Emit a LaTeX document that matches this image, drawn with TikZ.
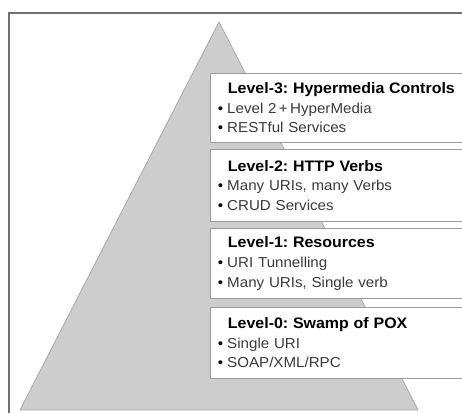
\documentclass[tikz,border=0pt]{standalone}
\usepackage{fontspec}
\setmainfont{Liberation Sans}
\newfontfamily\boxfont[FakeStretch=1.05]{Liberation Sans}
\definecolor{pyrfill}{HTML}{CDCDCD}
\definecolor{pyrline}{HTML}{A8A8A8}
\definecolor{frameline}{HTML}{707070}
\definecolor{boxline}{HTML}{9A9A9A}
\definecolor{bodytext}{HTML}{3A3A3A}
\tikzset{
  levelbox/.style={draw=boxline, line width=0.9pt, fill=white, anchor=north west,
    minimum width=270pt, minimum height=69pt, inner xsep=7pt, inner ysep=0pt,
    text width=255pt, align=left, font=\boxfont\fontsize{14.4}{19.6}\selectfont\frenchspacing}
}
\newcommand{\hdr}[1]{\hspace*{10pt}{\fontsize{15.2}{19.6}\selectfont\bfseries\color{black}#1}}
\newcommand{\itm}[1]{{\color{black}\textbullet}\hspace{4pt}{\color{bodytext}#1}}
\begin{document}
\begin{tikzpicture}[x=1pt,y=-1pt]
\useasboundingbox (0,0) rectangle (462,412);
% frame
\draw[frameline, line width=2pt] (9,418) -- (9,13) -- (470,13);
% pyramid
\coordinate (apex) at (219,22);
\coordinate (bl) at (20,410);
\coordinate (br) at (418,410);
\draw[pyrline, fill=pyrfill, line width=0.8pt] (apex) -- (br) -- (bl) -- cycle;
% boxes
\node[levelbox] (l3) at (210,73) {\hdr{Level-3: Hypermedia Controls}\\\itm{Level 2\,+\,HyperMedia}\\\itm{RESTful Services}};
\node[levelbox, minimum height=72pt] (l2) at (210,149) {\hdr{Level-2: HTTP Verbs}\\\itm{Many URIs, many Verbs}\\\itm{CRUD Services}};
\node[levelbox, minimum height=70pt] (l1) at (210,228) {\hdr{Level-1: Resources}\\\itm{URI Tunnelling}\\\itm{Many URIs, Single verb}};
\node[levelbox, minimum height=71pt] (l0) at (210,307) {\hdr{Level-0: Swamp of POX}\\\itm{Single URI}\\\itm{SOAP/XML/RPC}};
\end{tikzpicture}
\end{document}
